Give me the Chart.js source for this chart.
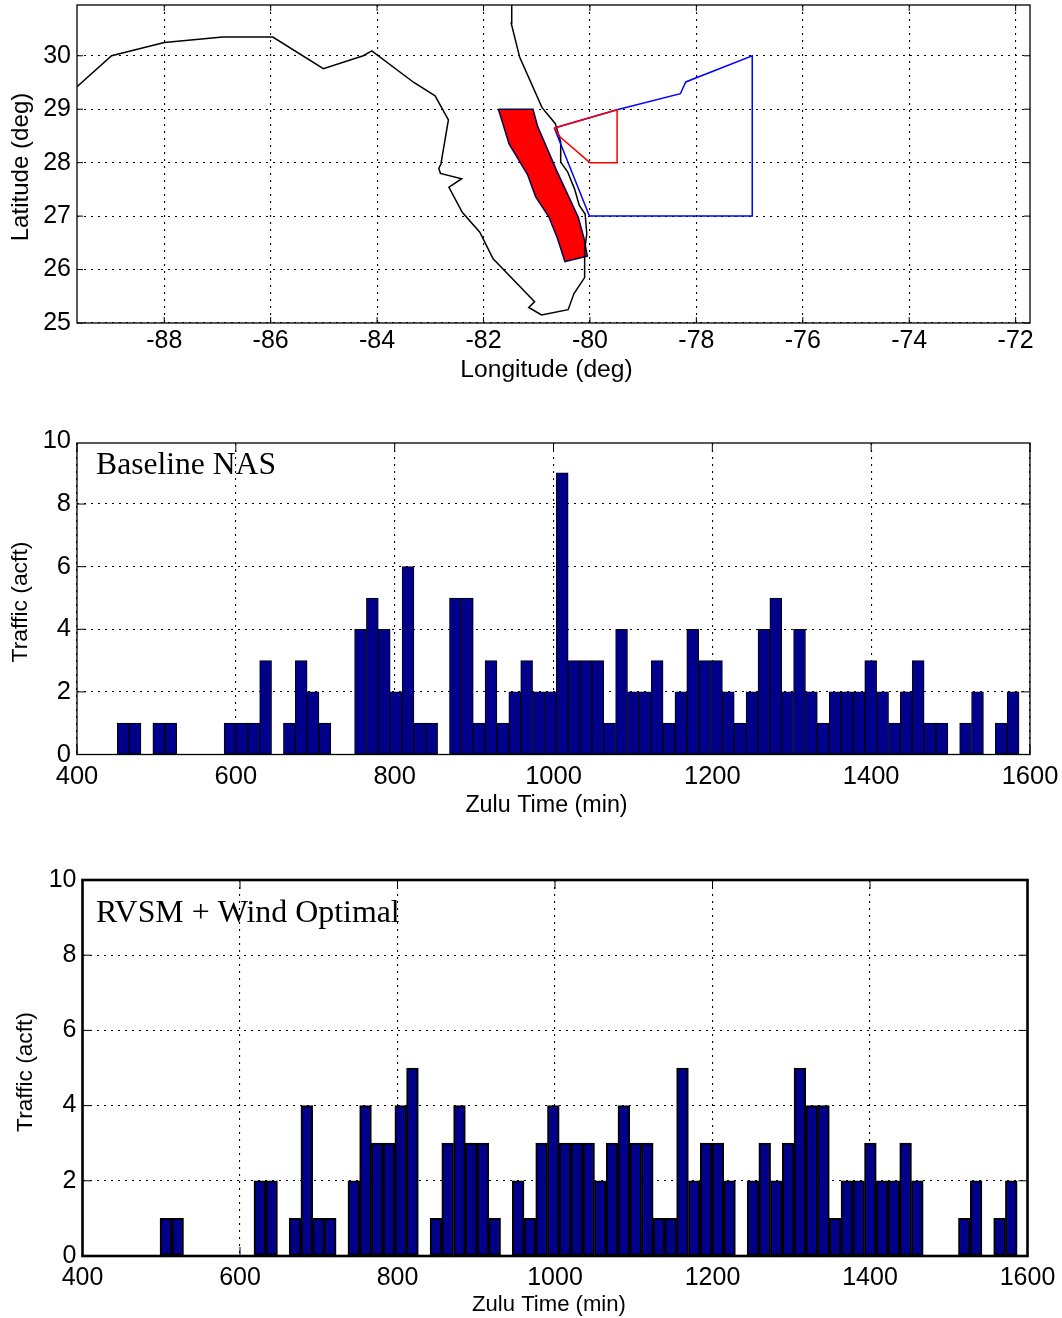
<!DOCTYPE html>
<html><head><meta charset="utf-8">
<script src="https://cdn.jsdelivr.net/npm/chart.js@4/dist/chart.umd.min.js"></script>
<style>
html,body{margin:0;padding:0;background:#fff;width:1062px;height:1318px;overflow:hidden}
canvas{position:absolute;left:0}
</style></head><body>
<canvas id="map" width="1062" height="390" style="top:0"></canvas>
<canvas id="base" width="1062" height="405" style="top:420px"></canvas>
<canvas id="rvsm" width="1062" height="458" style="top:860px"></canvas>
<script>
// ---------- data ----------
const coastWest = [[-89.64,29.42],[-88.99,30],[-88,30.25],[-86.9,30.35],[-85.96,30.35],[-85.01,29.76],[-84.26,30],[-84.1,30.09],[-83.31,29.5],[-82.91,29.25],[-82.66,28.8],[-82.8,27.98],[-82.84,27.89],[-82.81,27.8],[-82.41,27.7],[-82.65,27.54],[-82.4,27.07],[-82.07,26.7],[-81.82,26.2],[-81.04,25.4],[-81.15,25.29],[-80.91,25.15],[-80.41,25.25],[-80.3,25.55],[-80.1,25.85],[-80.1,26.35],[-80.06,26.67],[-80.09,27.04],[-80.2,27.2],[-80.29,27.51],[-80.42,27.83],[-80.55,28.01],[-80.55,28.39],[-80.65,28.73],[-80.9,29.03],[-81.32,29.97],[-81.48,30.61],[-81.47,30.95]];
const redZone = [[-81.72,29],[-81.07,29],[-80.98,28.67],[-80.63,27.86],[-80.22,26.98],[-80.11,26.58],[-80.05,26.25],[-80.47,26.15],[-80.61,26.58],[-80.77,26.98],[-81.02,27.36],[-81.17,27.77],[-81.52,28.35],[-81.72,29]];
const blueRegion = [[-80.67,28.65],[-79.49,28.99],[-78.3,29.29],[-78.2,29.51],[-76.95,30],[-76.95,27],[-80.01,27],[-80.67,28.65]];
const redRegion = [[-80.67,28.65],[-79.49,28.99],[-79.49,28],[-80,28],[-80.56,28.48],[-80.67,28.65]];

const baseBins = [458.2,473.1,488.1,503.0,518.0,532.9,547.8,562.8,577.7,592.7,607.6,622.5,637.5,652.4,667.4,682.3,697.2,712.2,727.1,742.1,757.0,771.9,786.9,801.8,816.8,831.7,846.6,861.6,876.5,891.5,906.4,921.3,936.3,951.2,966.2,981.1,996.0,1011.0,1025.9,1040.9,1055.8,1070.7,1085.7,1100.6,1115.6,1130.5,1145.4,1160.4,1175.3,1190.3,1205.2,1220.1,1235.1,1250.0,1265.0,1279.9,1294.8,1309.8,1324.7,1339.7,1354.6,1369.5,1384.5,1399.4,1414.4,1429.3,1444.2,1459.2,1474.1,1489.1,1504.0,1518.9,1533.9,1548.8,1563.8,1578.7];
const baseCounts = [1,1,0,1,1,0,0,0,0,1,1,1,3,0,1,3,2,1,0,0,4,5,4,2,6,1,1,0,5,5,1,3,1,2,3,2,2,9,3,3,3,1,4,2,2,3,1,2,4,3,3,2,1,2,4,5,2,4,2,1,2,2,2,3,2,1,2,3,1,1,0,1,2,0,1,2];

const rvsmBins = [505.9,520.8,535.7,550.6,565.5,580.5,595.4,610.3,625.2,640.1,655.0,669.9,684.8,699.7,714.6,729.6,744.5,759.4,774.3,789.2,804.1,819.0,833.9,848.8,863.7,878.7,893.6,908.5,923.4,938.3,953.2,968.1,983.0,997.9,1012.8,1027.8,1042.7,1057.6,1072.5,1087.4,1102.3,1117.2,1132.1,1147.0,1161.9,1176.9,1191.8,1206.7,1221.6,1236.5,1251.4,1266.3,1281.2,1296.1,1311.0,1326.0,1340.9,1355.8,1370.7,1385.6,1400.5,1415.4,1430.3,1445.2,1460.1,1475.1,1490.0,1504.9,1519.8,1534.7,1549.6,1564.5,1579.4];
const rvsmCounts = [1,1,0,0,0,0,0,0,2,2,0,1,4,1,1,0,2,4,3,3,4,5,0,1,3,4,3,3,1,0,2,1,3,4,3,3,3,2,3,4,3,3,1,1,5,2,3,3,2,0,2,3,2,3,5,4,4,1,2,2,3,2,2,3,2,0,0,0,1,2,0,1,2];

const trafficTicks = [0,2,4,6,8,10];

// ---------- helpers ----------
const SANS = '"Liberation Sans", Arial, sans-serif';
const pts = a => a.map(p => ({x:p[0], y:p[1]}));

const framePlugin = {
  id:'frame',
  beforeDatasetsDraw(c, a, o){
    const {left,right,top,bottom} = c.chartArea, ctx = c.ctx, L = o.tick;
    ctx.save(); ctx.strokeStyle = '#000'; ctx.lineWidth = 1; ctx.setLineDash([]);
    ctx.beginPath();
    c.scales.x.ticks.forEach((t,i)=>{ const p = c.scales.x.getPixelForTick(i);
      ctx.moveTo(p,top); ctx.lineTo(p,top+L); ctx.moveTo(p,bottom); ctx.lineTo(p,bottom-L); });
    c.scales.y.ticks.forEach((t,i)=>{ const p = c.scales.y.getPixelForTick(i);
      if (p < top) return;
      ctx.moveTo(left,p); ctx.lineTo(left+L,p); ctx.moveTo(right,p); ctx.lineTo(right-L,p); });
    ctx.stroke(); ctx.restore();
  },
  afterDatasetsDraw(c, a, o){
    const {left,right,top,bottom} = c.chartArea, ctx = c.ctx;
    ctx.save(); ctx.strokeStyle = '#000'; ctx.lineWidth = o.width; ctx.setLineDash([]);
    ctx.strokeRect(left,top,right-left,bottom-top);
    ctx.fillStyle = '#000';
    if (o.text){
      ctx.font = o.textSize+'px "Liberation Serif", "Times New Roman", serif';
      ctx.textBaseline = 'alphabetic'; ctx.textAlign = 'left';
      ctx.fillText(o.text, c.scales.x.getPixelForValue(o.textX), c.scales.y.getPixelForValue(o.textY));
    }
    // axis titles
    ctx.textAlign = 'center'; ctx.textBaseline = 'middle';
    ctx.font = o.xTitle.size+'px '+SANS;
    ctx.fillText(o.xTitle.text, o.xTitle.x, o.xTitle.y);
    ctx.save();
    ctx.translate(o.yTitle.x, o.yTitle.y); ctx.rotate(-Math.PI/2);
    ctx.font = o.yTitle.size+'px '+SANS;
    ctx.fillText(o.yTitle.text, 0, 0);
    ctx.restore();
    ctx.restore();
  }
};

function fixer(dim, size){
  return s => { s[dim] = size; s.paddingLeft = s.paddingRight = s.paddingTop = s.paddingBottom = 0; };
}

function axes(cfg){
  const dash = [2,5];
  return {
    x:{ type:'linear', min:cfg.xMin, max:cfg.xMax, offset:false,
        afterFit:fixer('height',cfg.xH),
        grid:{offset:false,color:'#000',lineWidth:1.1,drawTicks:false},
        border:{display:false,dash},
        ticks:{stepSize:cfg.xStep,includeBounds:false,autoSkip:false,maxRotation:0,color:'#000',padding:cfg.xPad,
               font:{family:SANS,size:cfg.tickSize},callback:v=>String(v)} },
    y:{ type:'linear', min:cfg.yMin, max:cfg.yMax,
        afterFit:fixer('width',cfg.yW),
        afterBuildTicks:cfg.yTicks ? (s => { s.ticks = cfg.yTicks.map(v=>({value:v})); }) : undefined,
        grid:{color:c => (c.tick && c.tick.value > cfg.yMax) ? 'rgba(0,0,0,0)' : '#000',lineWidth:1.1,drawTicks:false},
        border:{display:false,dash},
        ticks:{stepSize:cfg.yStep,includeBounds:false,autoSkip:false,color:'#000',padding:cfg.yPad,
               font:{family:SANS,size:cfg.tickSize},callback:v=>String(v)} }
  };
}

function line(data,color,width,order,extra){
  return Object.assign({data:pts(data),showLine:true,borderColor:color,borderWidth:width,pointRadius:0,tension:0,fill:false,order},extra||{});
}

// ---------- map ----------
new Chart(document.getElementById('map'),{
  type:'scatter',
  data:{datasets:[
    line(redZone,'#000050',1.5,4,{fill:'shape',backgroundColor:'#ff0000'}),
    line(coastWest,'#000',1.5,3),
    line(blueRegion,'#0000ff',1.5,2),
    line(redRegion,'#ff0000',1.5,1)
  ]},
  options:{responsive:false,animation:false,
    layout:{padding:{top:5,right:32,left:0,bottom:0}},
    plugins:{legend:{display:false},tooltip:{enabled:false},
      frame:{width:1.3,tick:6,xTitle:{text:'Longitude (deg)',size:24.6,x:546.5,y:370},yTitle:{text:'Latitude (deg)',size:24.1,x:21,y:167}}},
    scales:axes({xMin:-89.64,xMax:-71.73,xStep:2,yMin:25,yMax:30.95,yStep:1,xH:67,yW:77,xPad:3,yPad:6,tickSize:25})
  },
  plugins:[framePlugin]
});

function hist(id,bins,counts,o){
  new Chart(document.getElementById(id),{
    type:'bar',
    data:{labels:bins,datasets:[{data:bins.map((b,i)=>({x:b,y:counts[i]})),backgroundColor:'#00008b',borderColor:'#000',borderWidth:o.barBorder,barThickness:o.barW,borderSkipped:false}]},
    options:{responsive:false,animation:false,
      layout:{padding:{top:o.top,right:o.right,left:0,bottom:0}},
      plugins:{legend:{display:false},tooltip:{enabled:false},
        frame:{width:o.frame,tick:9,text:o.text,textSize:o.textSize,textX:o.textX,textY:o.textY,xTitle:o.xTitle,yTitle:o.yTitle}},
      scales:axes({xMin:400,xMax:1600,xStep:200,yMin:0,yMax:o.yMax,yStep:2,yTicks:trafficTicks,xH:o.xH,yW:o.yW,xPad:o.xPad,yPad:o.yPad,tickSize:o.tickSize})
    },
    plugins:[framePlugin]
  });
}
hist('base',baseBins,baseCounts,{top:23,right:32,yMax:9.95,xH:70.5,yW:77,xPad:7,yPad:6,tickSize:25.5,barBorder:1,barW:11.87,frame:1.3,
  text:'Baseline NAS',textSize:31.6,textX:424,textY:8.96,
  xTitle:{text:'Zulu Time (min)',size:23.3,x:546.5,y:386},yTitle:{text:'Traffic (acft)',size:22.9,x:21,y:182}});
hist('rvsm',rvsmBins,rvsmCounts,{top:20,right:34.5,yMax:10,xH:62,yW:82.5,xPad:7,yPad:6,tickSize:25,barBorder:2,barW:11.74,frame:2.6,
  text:'RVSM + Wind Optimal',textSize:31.9,textX:417,textY:8.89,
  xTitle:{text:'Zulu Time (min)',size:22.1,x:549,y:445},yTitle:{text:'Traffic (acft)',size:22.7,x:26,y:212}});
</script>
</body></html>
